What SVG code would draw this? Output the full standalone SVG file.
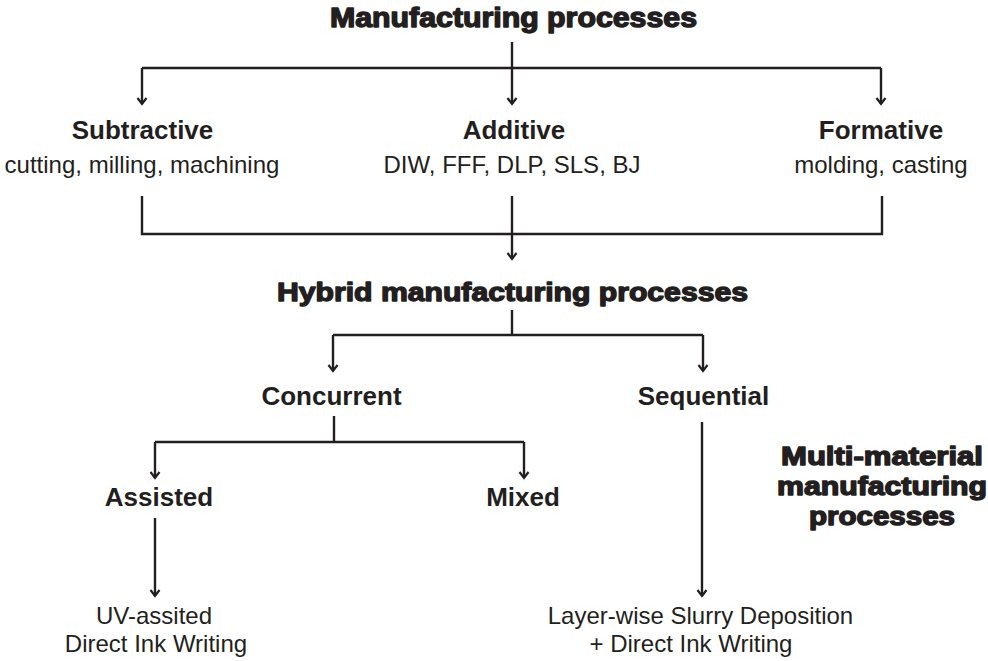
<svg xmlns="http://www.w3.org/2000/svg" width="988" height="661" viewBox="0 0 988 661">
<style>
.heavy{font-family:"Liberation Sans",Arial,sans-serif;font-weight:bold;fill:#231f20;stroke:#231f20;stroke-width:1.4;stroke-linejoin:round;text-anchor:middle}
.lbl{font-family:"Liberation Sans",Arial,sans-serif;font-weight:bold;font-size:26px;fill:#231f20;text-anchor:middle}
.reg{font-family:"Liberation Sans",Arial,sans-serif;font-size:24px;fill:#231f20;text-anchor:middle}
.ln{fill:none;stroke:#231f20;stroke-width:2.4}
.ar{marker-end:url(#arr)}
</style>
<defs>
<marker id="arr" markerUnits="userSpaceOnUse" markerWidth="14" markerHeight="14" viewBox="-8 -7 10 14" refX="0" refY="0" orient="auto">
<path d="M-6,-4.5 L0,0 L-6,4.5" fill="none" stroke="#231f20" stroke-width="2.2"/>
</marker>
</defs>
<rect width="988" height="661" fill="#ffffff"/>
<g id="connectors">
<path class="ln ar" d="M512,42 V104"/>
<path class="ln" d="M142,68 H881"/>
<path class="ln ar" d="M142,68 V104"/>
<path class="ln ar" d="M881,68 V104"/>
<path class="ln" d="M142,196 V234 H882 V196"/>
<path class="ln ar" d="M512,196 V259"/>
<path class="ln" d="M512,310 V335"/>
<path class="ln" d="M333,335 H703"/>
<path class="ln ar" d="M333,335 V371"/>
<path class="ln ar" d="M703,335 V371"/>
<path class="ln" d="M334,416 V442"/>
<path class="ln" d="M155,442 H524"/>
<path class="ln ar" d="M155,442 V478"/>
<path class="ln ar" d="M524,442 V478"/>
<path class="ln ar" d="M155,518 V596"/>
<path class="ln ar" d="M702,422 V596"/>
</g>
<g id="manufacturing"><text class="heavy" x="513.5" y="27" font-size="27" textLength="367" lengthAdjust="spacingAndGlyphs">Manufacturing processes</text></g>
<g id="subtractive">
<text class="lbl" x="142.5" y="139">Subtractive</text>
<text class="reg" x="142" y="173">cutting, milling, machining</text>
</g>
<g id="additive">
<text class="lbl" x="514" y="139">Additive</text>
<text class="reg" x="512" y="173">DIW, FFF, DLP, SLS, BJ</text>
</g>
<g id="formative">
<text class="lbl" x="881" y="139">Formative</text>
<text class="reg" x="881" y="173">molding, casting</text>
</g>
<g id="hybrid"><text class="heavy" x="512.5" y="300.5" font-size="26.5" textLength="471" lengthAdjust="spacingAndGlyphs">Hybrid manufacturing processes</text></g>
<g id="concurrent"><text class="lbl" x="331.5" y="405">Concurrent</text></g>
<g id="sequential"><text class="lbl" x="703.5" y="405">Sequential</text></g>
<g id="assisted"><text class="lbl" x="159" y="506">Assisted</text></g>
<g id="mixed"><text class="lbl" x="523" y="506">Mixed</text></g>
<g id="uv-diw">
<text class="reg" x="154" y="624">UV-assited</text>
<text class="reg" x="156" y="652">Direct Ink Writing</text>
</g>
<g id="lsd-diw">
<text class="reg" x="700.5" y="624">Layer-wise Slurry Deposition</text>
<text class="reg" x="691" y="652">+ Direct Ink Writing</text>
</g>
<g id="multi-material">
<text class="heavy" x="882" y="465" font-size="25" textLength="202" lengthAdjust="spacingAndGlyphs">Multi-material</text>
<text class="heavy" x="882" y="495" font-size="25" textLength="210" lengthAdjust="spacingAndGlyphs">manufacturing</text>
<text class="heavy" x="882" y="525" font-size="25" textLength="146" lengthAdjust="spacingAndGlyphs">processes</text>
</g>
</svg>
